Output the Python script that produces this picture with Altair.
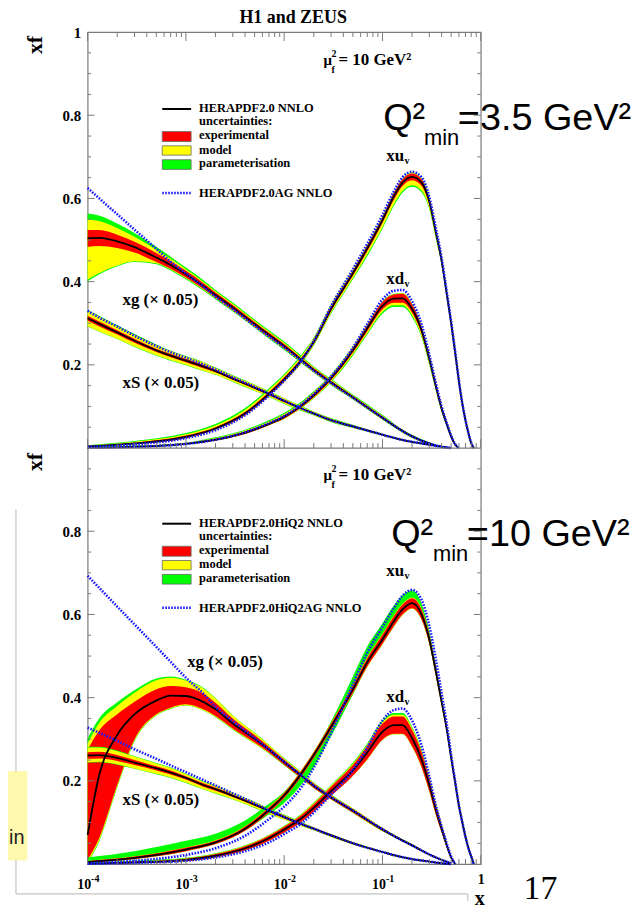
import altair as alt
import pandas as pd

SERIF = "Liberation Serif"
SANS = "Liberation Sans"
GRAY = "#7a7a7a"

# ---------------- x grids ----------------
XS = [1e-4, 1.3e-4, 2e-4, 3e-4, 5e-4, 7e-4, 1e-3, 1.5e-3, 2e-3, 3e-3, 5e-3, 7e-3,
      1e-2, 1.5e-2, 2e-2, 3e-2, 5e-2, 0.1, 0.15, 0.2, 0.3, 0.4, 0.5]
XV = [1e-4, 3e-4, 1e-3, 2e-3, 4e-3, 7e-3, 1e-2, 1.5e-2, 2e-2, 3e-2, 5e-2, 7e-2,
      0.1, 0.13, 0.16, 0.2, 0.25, 0.3, 0.35, 0.4, 0.45, 0.5, 0.55, 0.6, 0.65, 0.7,
      0.75, 0.8, 0.85]

# ---------------- top panel (HERAPDF2.0, Q2min = 3.5) ----------------
# xg (x 0.05)
T_G_C = [0.504, 0.505, 0.497, 0.483, 0.458, 0.440, 0.418, 0.390, 0.368, 0.338, 0.298, 0.272,
         0.245, 0.212, 0.188, 0.158, 0.122, 0.073, 0.045, 0.028, 0.011, 0.003, 0.0]
T_G_E = [0.020, 0.019, 0.016, 0.013, 0.011, 0.009, 0.008, 0.007, 0.006, 0.006, 0.005, 0.005,
         0.005, 0.004, 0.004, 0.004, 0.003, 0.003, 0.002, 0.002, 0.001, 0.001, 0.0]
T_G_MU = [0.026, 0.022, 0.016, 0.012, 0.008, 0.006, 0.004, 0.003, 0.003, 0.003, 0.003, 0.003,
          0.003, 0.003, 0.002, 0.002, 0.002, 0.002, 0.001, 0.001, 0.001, 0.0, 0.0]
T_G_MD = [0.079, 0.066, 0.042, 0.021, 0.003, 0.002, 0.002, 0.002, 0.002, 0.002, 0.002, 0.002,
          0.002, 0.002, 0.002, 0.002, 0.001, 0.001, 0.001, 0.001, 0.0, 0.0, 0.0]
T_G_PU = [0.014, 0.013, 0.011, 0.009, 0.007, 0.005, 0.004, 0.004, 0.003, 0.003, 0.003, 0.003,
          0.003, 0.003, 0.002, 0.002, 0.002, 0.002, 0.001, 0.001, 0.001, 0.0, 0.0]
T_G_PD = [0.004, 0.003, 0.002, 0.002, 0.002, 0.002, 0.002, 0.002, 0.002, 0.002, 0.002, 0.002,
          0.002, 0.002, 0.001, 0.001, 0.001, 0.001, 0.001, 0.001, 0.0, 0.0, 0.0]
T_G_AG = [0.625, 0.601, 0.562, 0.525, 0.479, 0.448, 0.420, 0.388, 0.364, 0.334, 0.294, 0.268,
          0.242, 0.209, 0.186, 0.156, 0.121, 0.073, 0.045, 0.028, 0.011, 0.003, 0.0]
# xS (x 0.05)
T_S_C = [0.312, 0.299, 0.278, 0.258, 0.235, 0.222, 0.210, 0.196, 0.185, 0.167, 0.145, 0.130,
         0.113, 0.095, 0.083, 0.067, 0.052, 0.032, 0.021, 0.015, 0.008, 0.003, 0.0]
T_S_E = [0.006, 0.006, 0.005, 0.005, 0.004, 0.004, 0.004, 0.004, 0.003, 0.003, 0.003, 0.003,
         0.003, 0.002, 0.002, 0.002, 0.002, 0.001, 0.001, 0.001, 0.001, 0.0, 0.0]
T_S_MU = [0.012, 0.011, 0.010, 0.009, 0.008, 0.007, 0.006, 0.006, 0.005, 0.004, 0.004, 0.003,
          0.003, 0.003, 0.002, 0.002, 0.001, 0.001, 0.001, 0.0, 0.0, 0.0, 0.0]
T_S_MD = [0.013, 0.012, 0.010, 0.009, 0.008, 0.007, 0.006, 0.006, 0.005, 0.004, 0.004, 0.003,
          0.003, 0.003, 0.002, 0.002, 0.001, 0.001, 0.001, 0.0, 0.0, 0.0, 0.0]
T_S_PU = [0.002, 0.002, 0.002, 0.002, 0.002, 0.001, 0.001, 0.001, 0.001, 0.001, 0.001, 0.001,
          0.001, 0.001, 0.001, 0.001, 0.001, 0.0, 0.0, 0.0, 0.0, 0.0, 0.0]
T_S_PD = [0.001, 0.001, 0.001, 0.001, 0.001, 0.001, 0.001, 0.001, 0.001, 0.001, 0.001, 0.001,
          0.001, 0.001, 0.001, 0.001, 0.001, 0.0, 0.0, 0.0, 0.0, 0.0, 0.0]
T_S_AG = [0.330, 0.314, 0.292, 0.270, 0.245, 0.230, 0.217, 0.201, 0.189, 0.170, 0.147, 0.131,
          0.114, 0.095, 0.083, 0.067, 0.052, 0.032, 0.021, 0.015, 0.008, 0.003, 0.0]
# xu_v
T_U_C = [0.004, 0.011, 0.027, 0.047, 0.083, 0.130, 0.165, 0.212, 0.255, 0.335, 0.420, 0.480,
         0.548, 0.604, 0.638, 0.652, 0.638, 0.592, 0.518, 0.450, 0.372, 0.300, 0.228, 0.160,
         0.106, 0.066, 0.036, 0.012, 0.0]
T_U_E = [0.001, 0.002, 0.003, 0.003, 0.004, 0.005, 0.005, 0.005, 0.005, 0.006, 0.006, 0.007,
         0.007, 0.008, 0.008, 0.008, 0.008, 0.007, 0.007, 0.006, 0.006, 0.005, 0.005, 0.004,
         0.003, 0.003, 0.002, 0.001, 0.0]
T_U_MU = [0.001, 0.002, 0.003, 0.004, 0.005, 0.005, 0.005, 0.005, 0.004, 0.003, 0.002, 0.001,
          0.001, 0.001, 0.001, 0.002, 0.002, 0.002, 0.001, 0.001, 0.001, 0.001, 0.001, 0.001,
          0.0, 0.0, 0.0, 0.0, 0.0]
T_U_MD = [0.0, 0.0, 0.0, 0.0, 0.0, 0.0, 0.001, 0.002, 0.003, 0.004, 0.006, 0.008,
          0.010, 0.011, 0.012, 0.012, 0.011, 0.009, 0.006, 0.004, 0.003, 0.002, 0.002, 0.001,
          0.001, 0.0, 0.0, 0.0, 0.0]
T_U_PU = [0.001, 0.002, 0.003, 0.004, 0.004, 0.004, 0.003, 0.003, 0.002, 0.001, 0.001, 0.001,
          0.001, 0.001, 0.001, 0.001, 0.001, 0.001, 0.001, 0.001, 0.0, 0.0, 0.0, 0.0,
          0.0, 0.0, 0.0, 0.0, 0.0]
T_U_PD = [0.0, 0.0, 0.0, 0.0, 0.0, 0.0, 0.0, 0.001, 0.001, 0.002, 0.003, 0.004,
          0.004, 0.004, 0.004, 0.004, 0.004, 0.003, 0.003, 0.002, 0.002, 0.001, 0.001, 0.001,
          0.0, 0.0, 0.0, 0.0, 0.0]
T_U_AG = [0.003, 0.009, 0.024, 0.043, 0.079, 0.126, 0.162, 0.211, 0.257, 0.341, 0.430, 0.491,
          0.560, 0.616, 0.651, 0.664, 0.651, 0.603, 0.527, 0.457, 0.377, 0.304, 0.231, 0.162,
          0.107, 0.067, 0.036, 0.012, 0.0]
# xd_v
T_D_C = [0.001, 0.003, 0.010, 0.020, 0.037, 0.058, 0.075, 0.102, 0.127, 0.168, 0.235, 0.288,
         0.342, 0.359, 0.360, 0.335, 0.283, 0.214, 0.148, 0.095, 0.058, 0.028, 0.008, 0.0]
T_D_E = [0.0005, 0.001, 0.001, 0.002, 0.003, 0.003, 0.004, 0.004, 0.005, 0.005, 0.006, 0.007,
         0.009, 0.010, 0.011, 0.010, 0.009, 0.008, 0.007, 0.006, 0.004, 0.003, 0.002, 0.0]
T_D_MU = [0.0005, 0.001, 0.001, 0.002, 0.002, 0.003, 0.003, 0.003, 0.003, 0.002, 0.002, 0.001,
          0.001, 0.001, 0.001, 0.001, 0.001, 0.001, 0.001, 0.0, 0.0, 0.0, 0.0, 0.0]
T_D_MD = [0.0, 0.0, 0.0, 0.0, 0.0, 0.0, 0.001, 0.001, 0.002, 0.003, 0.004, 0.005,
          0.006, 0.006, 0.006, 0.006, 0.005, 0.004, 0.003, 0.002, 0.001, 0.001, 0.0, 0.0]
T_D_PU = [0.0005, 0.001, 0.001, 0.002, 0.002, 0.003, 0.003, 0.003, 0.002, 0.002, 0.001, 0.001,
          0.001, 0.001, 0.001, 0.001, 0.001, 0.001, 0.0, 0.0, 0.0, 0.0, 0.0, 0.0]
T_D_PD = [0.0, 0.0, 0.0, 0.0, 0.0, 0.0, 0.0, 0.001, 0.001, 0.002, 0.003, 0.003,
          0.004, 0.004, 0.004, 0.004, 0.003, 0.003, 0.002, 0.001, 0.001, 0.0, 0.0, 0.0]
T_D_AG = [0.001, 0.003, 0.010, 0.020, 0.038, 0.060, 0.077, 0.105, 0.130, 0.172, 0.241, 0.298,
          0.357, 0.378, 0.380, 0.353, 0.297, 0.224, 0.155, 0.100, 0.061, 0.030, 0.009, 0.0]

# ---------------- bottom panel (HERAPDF2.0HiQ2, Q2min = 10) ----------------
B_G_C = [0.070, 0.210, 0.310, 0.360, 0.393, 0.405, 0.404, 0.390, 0.372, 0.338, 0.301, 0.275,
         0.245, 0.212, 0.188, 0.160, 0.128, 0.083, 0.060, 0.045, 0.023, 0.010, 0.002]
B_G_EU = [0.205, 0.110, 0.050, 0.030, 0.027, 0.023, 0.021, 0.020, 0.016, 0.012, 0.009, 0.007,
          0.006, 0.005, 0.005, 0.004, 0.004, 0.003, 0.002, 0.002, 0.001, 0.001, 0.0]
B_G_ED = [0.060, 0.150, 0.120, 0.060, 0.033, 0.029, 0.020, 0.018, 0.016, 0.012, 0.009, 0.007,
          0.006, 0.005, 0.005, 0.004, 0.004, 0.003, 0.002, 0.002, 0.001, 0.001, 0.0]
B_G_MU = [0.015, 0.018, 0.020, 0.022, 0.022, 0.020, 0.016, 0.012, 0.010, 0.007, 0.005, 0.004,
          0.003, 0.003, 0.002, 0.002, 0.002, 0.001, 0.001, 0.001, 0.0, 0.0, 0.0]
B_G_MD = [0.005, 0.005, 0.004, 0.003, 0.002, 0.002, 0.002, 0.002, 0.002, 0.002, 0.002, 0.001,
          0.001, 0.001, 0.001, 0.001, 0.001, 0.001, 0.0, 0.0, 0.0, 0.0, 0.0]
B_G_PU = [0.012, 0.011, 0.009, 0.006, 0.004, 0.003, 0.002, 0.002, 0.001, 0.001, 0.001, 0.001,
          0.001, 0.001, 0.001, 0.001, 0.0, 0.0, 0.0, 0.0, 0.0, 0.0, 0.0]
B_G_PD = [0.003, 0.003, 0.002, 0.002, 0.001, 0.001, 0.001, 0.001, 0.001, 0.001, 0.001, 0.001,
          0.001, 0.001, 0.0, 0.0, 0.0, 0.0, 0.0, 0.0, 0.0, 0.0, 0.0]
B_G_AG = [0.693, 0.665, 0.619, 0.576, 0.522, 0.486, 0.448, 0.410, 0.378, 0.344, 0.303, 0.276,
          0.246, 0.213, 0.189, 0.161, 0.129, 0.084, 0.060, 0.045, 0.023, 0.010, 0.002]

B_S_C = [0.261, 0.262, 0.255, 0.244, 0.230, 0.220, 0.207, 0.190, 0.180, 0.164, 0.143, 0.128,
         0.113, 0.096, 0.085, 0.069, 0.050, 0.029, 0.018, 0.012, 0.006, 0.002, 0.0]
B_S_E = [0.008, 0.008, 0.007, 0.006, 0.005, 0.005, 0.004, 0.004, 0.004, 0.003, 0.003, 0.003,
         0.003, 0.002, 0.002, 0.002, 0.002, 0.001, 0.001, 0.001, 0.001, 0.0, 0.0]
B_S_MU = [0.011, 0.010, 0.009, 0.008, 0.007, 0.006, 0.005, 0.004, 0.004, 0.003, 0.003, 0.002,
          0.002, 0.002, 0.001, 0.001, 0.001, 0.001, 0.0, 0.0, 0.0, 0.0, 0.0]
B_S_MD = [0.008, 0.008, 0.008, 0.008, 0.008, 0.007, 0.007, 0.006, 0.006, 0.005, 0.004, 0.004,
          0.003, 0.003, 0.002, 0.002, 0.001, 0.001, 0.001, 0.0, 0.0, 0.0, 0.0]
B_S_PU = [0.002, 0.002, 0.002, 0.001, 0.001, 0.001, 0.001, 0.001, 0.001, 0.001, 0.001, 0.001,
          0.001, 0.001, 0.0, 0.0, 0.0, 0.0, 0.0, 0.0, 0.0, 0.0, 0.0]
B_S_PD = [0.001, 0.001, 0.001, 0.001, 0.001, 0.001, 0.001, 0.001, 0.001, 0.001, 0.001, 0.001,
          0.0, 0.0, 0.0, 0.0, 0.0, 0.0, 0.0, 0.0, 0.0, 0.0, 0.0]
B_S_AG = [0.328, 0.316, 0.296, 0.276, 0.253, 0.237, 0.221, 0.202, 0.189, 0.170, 0.146, 0.129,
          0.113, 0.096, 0.085, 0.069, 0.050, 0.029, 0.018, 0.012, 0.006, 0.002, 0.0]

B_U_C = [0.005, 0.015, 0.035, 0.052, 0.085, 0.130, 0.165, 0.218, 0.262, 0.330, 0.420, 0.485,
         0.540, 0.583, 0.612, 0.627, 0.600, 0.540, 0.462, 0.390, 0.325, 0.255, 0.195, 0.140,
         0.100, 0.065, 0.038, 0.018, 0.0]
B_U_E = [0.002, 0.003, 0.004, 0.004, 0.005, 0.006, 0.006, 0.007, 0.007, 0.008, 0.009, 0.010,
         0.011, 0.012, 0.012, 0.012, 0.012, 0.011, 0.010, 0.009, 0.008, 0.007, 0.006, 0.005,
         0.004, 0.003, 0.002, 0.001, 0.0]
B_U_MU = [0.001, 0.001, 0.001, 0.001, 0.001, 0.001, 0.001, 0.001, 0.001, 0.001, 0.002, 0.002,
          0.002, 0.002, 0.002, 0.002, 0.002, 0.001, 0.001, 0.001, 0.001, 0.001, 0.0, 0.0,
          0.0, 0.0, 0.0, 0.0, 0.0]
B_U_MD = [0.0, 0.0, 0.0, 0.0, 0.0, 0.0, 0.0, 0.0, 0.0, 0.0, 0.001, 0.001,
          0.001, 0.001, 0.001, 0.001, 0.001, 0.001, 0.001, 0.001, 0.0, 0.0, 0.0, 0.0,
          0.0, 0.0, 0.0, 0.0, 0.0]
B_U_PU = [0.008, 0.012, 0.016, 0.016, 0.014, 0.008, 0.002, 0.0, 0.0, 0.004, 0.020, 0.026,
          0.026, 0.024, 0.020, 0.017, 0.012, 0.008, 0.005, 0.003, 0.002, 0.001, 0.0, 0.0,
          0.0, 0.0, 0.0, 0.0, 0.0]
B_U_PD = [0.0, 0.0, 0.0, 0.0, 0.0, 0.004, 0.012, 0.020, 0.022, 0.015, 0.003, 0.0,
          0.0, 0.0, 0.0, 0.0, 0.0, 0.0, 0.0, 0.0, 0.0, 0.0, 0.0, 0.0,
          0.0, 0.0, 0.0, 0.0, 0.0]
B_U_AG = [0.002, 0.008, 0.022, 0.038, 0.068, 0.108, 0.138, 0.185, 0.232, 0.315, 0.432, 0.508,
          0.570, 0.615, 0.645, 0.659, 0.635, 0.572, 0.490, 0.410, 0.338, 0.262, 0.198, 0.141,
          0.100, 0.065, 0.038, 0.018, 0.0]

B_D_C = [0.001, 0.004, 0.010, 0.020, 0.038, 0.062, 0.083, 0.110, 0.135, 0.175, 0.225, 0.268,
         0.318, 0.334, 0.334, 0.303, 0.251, 0.190, 0.130, 0.085, 0.046, 0.016, 0.0]
B_D_E = [0.001, 0.002, 0.003, 0.004, 0.005, 0.006, 0.007, 0.008, 0.009, 0.011, 0.013, 0.016,
         0.019, 0.021, 0.021, 0.020, 0.018, 0.015, 0.012, 0.009, 0.006, 0.004, 0.0]
B_D_MU = [0.0005, 0.001, 0.001, 0.001, 0.001, 0.001, 0.001, 0.002, 0.002, 0.002, 0.003, 0.003,
          0.004, 0.004, 0.004, 0.004, 0.003, 0.002, 0.002, 0.001, 0.001, 0.0, 0.0]
B_D_MD = [0.0, 0.0, 0.0, 0.0, 0.0, 0.0, 0.0, 0.0, 0.0, 0.0, 0.0, 0.001,
          0.001, 0.001, 0.001, 0.001, 0.001, 0.001, 0.0, 0.0, 0.0, 0.0, 0.0]
B_D_PU = [0.0005, 0.001, 0.001, 0.001, 0.001, 0.001, 0.001, 0.001, 0.002, 0.002, 0.003, 0.003,
          0.004, 0.004, 0.004, 0.003, 0.003, 0.002, 0.001, 0.001, 0.0, 0.0, 0.0]
B_D_PD = [0.0, 0.0, 0.0, 0.0, 0.0, 0.0, 0.0, 0.0, 0.0, 0.0, 0.0, 0.0,
          0.0, 0.0, 0.0, 0.0, 0.0, 0.0, 0.0, 0.0, 0.0, 0.0, 0.0]
B_D_AG = [0.001, 0.003, 0.008, 0.016, 0.031, 0.052, 0.072, 0.098, 0.124, 0.167, 0.226, 0.280,
          0.345, 0.370, 0.374, 0.345, 0.285, 0.210, 0.140, 0.090, 0.050, 0.018, 0.0]

# tick labels
XLAB_X = [1e-4, 1e-3, 1e-2, 1e-1]
XLAB_EXP = ["-4", "-3", "-2", "-1"]
Y_LABEL_VALUES = [0.2, 0.4, 0.6, 0.8, 1.2, 1.4, 1.6, 1.8, 2.0]

# ---------------- build table ----------------
CURVES = [
    (1.0, "T_g", XS, T_G_C, T_G_E, T_G_E, T_G_MU, T_G_MD, T_G_PU, T_G_PD, T_G_AG),
    (1.0, "T_S", XS, T_S_C, T_S_E, T_S_E, T_S_MU, T_S_MD, T_S_PU, T_S_PD, T_S_AG),
    (1.0, "T_u", XV, T_U_C, T_U_E, T_U_E, T_U_MU, T_U_MD, T_U_PU, T_U_PD, T_U_AG),
    (1.0, "T_d", XV, T_D_C, T_D_E, T_D_E, T_D_MU, T_D_MD, T_D_PU, T_D_PD, T_D_AG),
    (0.0, "B_g", XS, B_G_C, B_G_EU, B_G_ED, B_G_MU, B_G_MD, B_G_PU, B_G_PD, B_G_AG),
    (0.0, "B_S", XS, B_S_C, B_S_E, B_S_E, B_S_MU, B_S_MD, B_S_PU, B_S_PD, B_S_AG),
    (0.0, "B_u", XV, B_U_C, B_U_E, B_U_E, B_U_MU, B_U_MD, B_U_PU, B_U_PD, B_U_AG),
    (0.0, "B_d", XV, B_D_C, B_D_E, B_D_E, B_D_MU, B_D_MD, B_D_PU, B_D_PD, B_D_AG),
]
rows = []
for off, key, grid, c, eu, ed, mu, md, pu, pdn, ag in CURVES:
    n = min(len(a) for a in (grid, c, eu, ed, mu, md, pu, pdn, ag))
    for i in range(n):
        r_lo = c[i] - ed[i]
        r_hi = c[i] + eu[i]
        y_lo = r_lo - md[i]
        y_hi = r_hi + mu[i]
        g_lo = y_lo - pdn[i]
        g_hi = y_hi + pu[i]
        rows.append(dict(key=key, kind=key[2], x=grid[i], c=c[i] + off, ag=ag[i] + off,
                         r_lo=max(r_lo, 0) + off, r_hi=r_hi + off,
                         y_lo=max(y_lo, 0) + off, y_hi=y_hi + off,
                         g_lo=max(g_lo, 0) + off, g_hi=g_hi + off))
DF = pd.DataFrame(rows)

W, H = 395, 836
PX0, PY0 = 88, 30  # page position of plot origin
MID = H / 2

XSC = alt.Scale(type="log", domain=[1e-4, 1], nice=False)
YSC = alt.Scale(domain=[0, 2], nice=False, zero=False)
YAX = alt.Axis(values=Y_LABEL_VALUES,
               labelExpr="datum.value > 1.95 ? '1' : (datum.value > 1.05 ? format(datum.value - 1, '.1f') : format(datum.value, '.1f'))",
               domain=False, ticks=False, grid=False, title=None,
               labelFont=SERIF, labelFontWeight="bold", labelFontSize=15,
               labelColor="black", labelPadding=7)
XENC = alt.X("x:Q", scale=XSC, axis=None)

layers = []

# bands
for kind in ["g", "S", "u", "d"]:
    d = DF[DF.kind == kind]
    for lo, hi, col in [("g_lo", "g_hi", "#00ff00"), ("y_lo", "y_hi", "#ffff00"), ("r_lo", "r_hi", "#ff0000")]:
        layers.append(
            alt.Chart(d).mark_area(color=col, interpolate="monotone", opacity=1).encode(
                x=XENC, y=alt.Y(f"{lo}:Q", scale=YSC, axis=YAX), y2=alt.Y2(f"{hi}:Q"),
                detail="key:N")
        )

# central lines
layers.append(alt.Chart(DF).mark_line(color="black", strokeWidth=1.8, interpolate="monotone").encode(
    x=XENC, y=alt.Y("c:Q", scale=YSC, axis=YAX), detail="key:N"))
# AG lines
layers.append(alt.Chart(DF).mark_line(color="#1a1aff", strokeWidth=2.6, strokeDash=[1.6, 1.4],
                                      interpolate="monotone").encode(
    x=XENC, y=alt.Y("ag:Q", scale=YSC, axis=YAX), detail="key:N"))

ONE = pd.DataFrame({"a": [0]})


def rule(x1, y1, x2, y2, color=GRAY, width=1.0, dash=None):
    kw = dict(color=color, strokeWidth=width)
    if dash:
        kw["strokeDash"] = dash
    return alt.Chart(ONE).mark_rule(**kw).encode(
        x=alt.value(x1 - PX0), x2=alt.value(x2 - PX0),
        y=alt.value(y1 - PY0), y2=alt.value(y2 - PY0))


def box(x1, y1, x2, y2, fill, stroke="#666666"):
    return alt.Chart(ONE).mark_rect(fill=fill, stroke=stroke, strokeWidth=0.8).encode(
        x=alt.value(x1 - PX0), x2=alt.value(x2 - PX0),
        y=alt.value(y1 - PY0), y2=alt.value(y2 - PY0))


def txt(s, px, py, size, font=SERIF, weight="bold", align="left", baseline="alphabetic",
        angle=0, color="black"):
    return alt.Chart(ONE).mark_text(text=s, font=font, fontWeight=weight, fontSize=size,
                                    align=align, baseline=baseline, angle=angle,
                                    color=color).encode(
        x=alt.value(px - PX0), y=alt.value(py - PY0))


# middle separator line
layers.append(alt.Chart(ONE).mark_rule(color=GRAY, strokeWidth=1.2).encode(
    y=alt.Y("v:Q", scale=YSC, axis=YAX)).transform_calculate(v="1"))

# x ticks (inside)
XT_MAJ = [1e-4, 1e-3, 1e-2, 1e-1, 1.0]
XT_MIN = [m * 10.0 ** e for e in range(-4, 0) for m in range(2, 10)]


def xticks(vals, y1, y2):
    return alt.Chart(pd.DataFrame({"x": vals})).mark_rule(color=GRAY, strokeWidth=1).encode(
        x=XENC, y=alt.value(y1), y2=alt.value(y2))


for y_edge, sgn in [(0, 1), (MID, -1), (H, -1)]:
    layers.append(xticks(XT_MAJ, y_edge, y_edge + sgn * 9))
    layers.append(xticks(XT_MIN, y_edge, y_edge + sgn * 5))

# y ticks (inside, both sides)
YT_MAJ = [k * 0.05 for k in range(1, 40) if k % 4 == 0 and k != 20]
YT_MIN = [k * 0.05 for k in range(1, 40) if k % 4 != 0]


def yticks(vals, x1, x2):
    return alt.Chart(pd.DataFrame({"y": vals})).mark_rule(color=GRAY, strokeWidth=1).encode(
        y=alt.Y("y:Q", scale=YSC, axis=YAX), x=alt.value(x1), x2=alt.value(x2))


layers += [yticks(YT_MAJ, 0, 7), yticks(YT_MIN, 0, 3.5),
           yticks(YT_MAJ, W, W - 7), yticks(YT_MIN, W, W - 3.5)]

# x tick labels
XLDF = pd.DataFrame({"x": XLAB_X, "b": ["10", "10", "10", "10"], "e": XLAB_EXP})
layers.append(alt.Chart(XLDF).mark_text(align="right", dx=3.5, font=SERIF, fontWeight="bold",
                                        fontSize=14, color="black").encode(
    x=XENC, y=alt.value(857), text="b:N"))
layers.append(alt.Chart(XLDF).mark_text(align="left", dx=3.5, font=SERIF, fontWeight="bold",
                                        fontSize=10, color="black").encode(
    x=XENC, y=alt.value(851), text="e:N"))
layers.append(txt("1", 483.5, 886, 14, align="center"))

# titles / axis titles
layers.append(txt("H1 and ZEUS", 294.5, 20.5, 18, align="center"))
layers.append(txt("xf", 35, 43, 22, align="center", baseline="middle", angle=270))
layers.append(txt("xf", 35, 462, 22, align="center", baseline="middle", angle=270))
layers.append(txt("x", 482, 907, 20, align="center"))
layers.append(txt("17", 526, 901, 34, weight="normal"))

# Q2min annotations
for (qx, qy, rest, mx) in [(385, 128, "=3.5 GeV²", 426), (393, 546.7, "=10 GeV²", 435)]:
    layers.append(txt("Q²", qx, qy, 38, font=SANS, weight="normal"))
    layers.append(txt("min", mx, qy + 15, 22, font=SANS, weight="normal"))
    layers.append(txt(rest, mx + 34, qy, 38, font=SANS, weight="normal"))

# mu_f^2 annotations and legends
for dy, names in [(0, ("HERAPDF2.0 NNLO", "HERAPDF2.0AG NNLO")),
                  (416.7, ("HERAPDF2.0HiQ2 NNLO", "HERAPDF2.0HiQ2AG NNLO"))]:
    layers.append(txt("μ", 325, 63.3 + dy, 15))
    layers.append(txt("2", 333, 55.5 + dy, 10))
    layers.append(txt("f", 333, 71.5 + dy, 10))
    layers.append(txt("= 10 GeV²", 340, 63.3 + dy, 17))
    layers.append(rule(163, 107.3 + dy, 192, 107.3 + dy, color="black", width=2))
    layers.append(box(163, 130 + dy, 192, 140 + dy, "#ff0000"))
    layers.append(box(163, 144.3 + dy, 192, 153.7 + dy, "#ffff00"))
    layers.append(box(163, 158.3 + dy, 192, 168 + dy, "#00ff00"))
    layers.append(rule(163, 191.7 + dy, 192, 191.7 + dy, color="#1a1aff", width=2.6, dash=[1.6, 1.4]))
    layers.append(txt(names[0], 200, 110.7 + dy, 12.5))
    layers.append(txt("uncertainties:", 200, 123.5 + dy, 12.5))
    layers.append(txt("experimental", 200, 137.5 + dy, 12.5))
    layers.append(txt("model", 200, 152.3 + dy, 12.5))
    layers.append(txt("parameterisation", 200, 166 + dy, 12.5))
    layers.append(txt(names[1], 200, 196 + dy, 12.5))

# curve labels
for s, px, py in [("xg (× 0.05)", 123, 304), ("xS (× 0.05)", 123, 387.3),
                  ("xg (× 0.05)", 188, 668), ("xS (× 0.05)", 123, 806.7)]:
    layers.append(txt(s, px, py, 17))
for s, py in [("xu", 160), ("xd", 283), ("xu", 577), ("xd", 703)]:
    layers.append(txt(s, 388, py, 17))
    layers.append(txt("v", 406.5, py + 3, 10))

# slide residue around the figure
layers.append(box(8, 773, 27, 862, "#fff9ae", stroke="#fff9ae"))
layers.append(txt("in", 9, 846, 20, font=SANS, weight="normal", color="#222222"))
layers.append(rule(16, 510, 16, 773, color="#c4c4c4", width=1.2))
layers.append(rule(16, 862, 16, 896, color="#c4c4c4", width=1.2))
layers.append(rule(16, 896, 470, 896, color="#c4c4c4", width=1.2))
layers.append(rule(470, 896, 470, 903, color="#c4c4c4", width=1.2))

chart = alt.layer(*layers).properties(
    width=W, height=H,
    autosize=alt.AutoSizeParams(type="none"),
    padding={"left": 80, "top": 22, "right": 155, "bottom": 46},
    background="white",
).configure_view(stroke=GRAY, strokeWidth=1.2)

chart.save("out.html", embed_options={"renderer": "svg", "actions": False})
